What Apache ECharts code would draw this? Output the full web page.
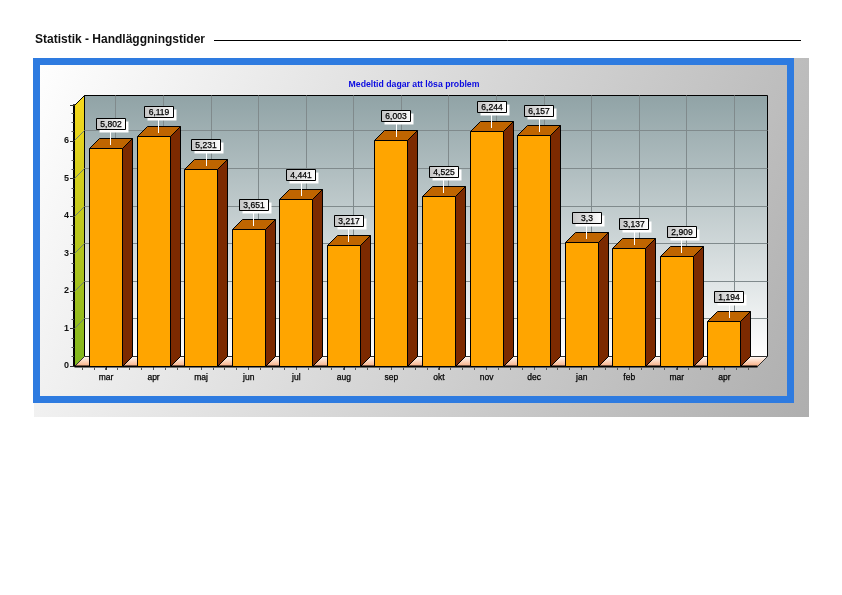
<!DOCTYPE html>
<html><head><meta charset="utf-8">
<style>html,body{margin:0;padding:0;background:#fff}#c{width:842px;height:595px}</style>
<script src="https://cdn.jsdelivr.net/npm/echarts@6/dist/echarts.min.js"></script>
</head><body><div id="c"></div>
<script>
const categories = ['mar','apr','maj','jun','jul','aug','sep','okt','nov','dec','jan','feb','mar','apr'];
const values = [5.802,6.119,5.231,3.651,4.441,3.217,6.003,4.525,6.244,6.157,3.3,3.137,2.909,1.194];
const yMax = 6.96;
const pageTitle = 'Statistik - Handläggningstider';
const chartTitle = 'Medeltid dagar att lösa problem';

const D = 10, BAR_W = 33, FONT = '"Liberation Sans", Arial, sans-serif';
const snap = v => Math.round(v - 0.5) + 0.5;
const poly = (points, fill, stroke, lw) => ({type:'polygon', shape:{points}, style:{fill, stroke:stroke||'none', lineWidth:lw||0}});
const line = (x1,y1,x2,y2,stroke,lw) => ({type:'line', shape:{x1,y1,x2,y2}, style:{stroke, lineWidth:lw||1}});
const lin = (x,y,x2,y2,stops) => ({type:'linear',x,y,x2,y2,colorStops:stops.map((c,i)=>({offset:i/(stops.length-1),color:c}))});

function renderWalls(params, api){
  const cs = params.coordSys;
  const L = snap(cs.x - 8.2), R = snap(cs.x + cs.width + 8.8), T = snap(cs.y), B = snap(cs.y + cs.height);
  const ch = [];
  ch.push(poly([[L+D,T-D],[R+D,T-D],[R+D,B-D],[L+D,B-D]], lin(0,0,0,1,['#90a3a6','#ffffff']), '#000', 1));
  ch.push(poly([[L,T],[L+D,T-D],[L+D,B-D],[L,B]], lin(0,0,0,1,['#f8d81c','#7fb61e']), '#000', 1));
  ch.push(poly([[L,B],[L+D,B-D],[R+D,B-D],[R,B]], lin(0,0,0,1,['#ffffff','#f8a878']), '#333', 1));
  for(let v=1;v<=6;v++){
    const y = snap(api.coord([0,v])[1]);
    ch.push(line(L,y,L+D,y-D,'#6f7f6a',1));
    ch.push(line(L+D,y-D,R+D,y-D,'#808a8c',1));
  }
  categories.forEach((c,i)=>{
    const x = snap(api.coord([i,0])[0]);
    ch.push(line(x+D,T-D,x+D,B-D,'#808a8c',1));
  });
  ch.push(line(L,B,R,B,'#000',2));
  const band = api.size([1,0])[0];
  for(let i=0;i<categories.length*4+1;i++){
    const x = snap(cs.x + i*band/4);
    ch.push(line(x,B+1,x,B+3.5,'#555',1));
  }
  return {type:'group', children:ch};
}

function renderBar(params, api){
  const i = api.value(0), v = api.value(1);
  const c = api.coord([i,v]), c0 = api.coord([i,0]);
  const x0 = snap(c[0]-BAR_W/2), x1 = x0+BAR_W, yt = snap(c[1]), yb = snap(c0[1]);
  const txt = String(v).replace('.',',');
  const bw = 29, bh = 11, mid = snap(c[0]+5);
  const bx = snap(c[0]+5-bw/2), by = snap(yt-24.5-bh/2);
  return {type:'group', children:[
    poly([[x1,yt],[x1+D,yt-D],[x1+D,yb-D],[x1,yb]], '#7c2a00', '#000', 1),
    poly([[x0,yt],[x0+D,yt-D],[x1+D,yt-D],[x1,yt]], '#bf6500', '#000', 1),
    {type:'rect', shape:{x:x0,y:yt,width:BAR_W,height:yb-yt}, style:{fill:'#ffa500',stroke:'#000',lineWidth:1}},
    line(mid,by+bh,mid,yt-3.5,'#ffffff',1),
    {type:'rect', shape:{x:bx+3,y:by+3,width:bw,height:bh}, style:{fill:'#ffffff'}},
    {type:'rect', shape:{x:bx,y:by,width:bw,height:bh}, style:{fill:lin(0,0,1,0,['#c4c4c4','#ffffff']),stroke:'#000',lineWidth:1}},
    {type:'text', style:{x:bx+bw/2,y:by+bh/2+0.5,text:txt,fill:'#000',font:'8.5px '+FONT,align:'center',verticalAlign:'middle',stroke:'#000',lineWidth:0.25}}
  ]};
}

const chart = echarts.init(document.getElementById('c'), null, {renderer:'canvas'});
chart.setOption({
  animation:false,
  backgroundColor:'#fff',
  title:[
    {text:pageTitle,left:35,top:34,textStyle:{fontFamily:FONT,fontSize:12,fontWeight:'bold',color:'#111'},padding:0},
    {text:chartTitle,left:414,top:80,textAlign:'center',textStyle:{fontFamily:FONT,fontSize:8.7,fontWeight:'bold',color:'#0a0ae0'},padding:0}
  ],
  graphic:[
    {type:'line',shape:{x1:214,y1:40.5,x2:801,y2:40.5},style:{stroke:'#000',lineWidth:1}},
    {type:'rect',shape:{x:34,y:58,width:775,height:359},style:{fill:lin(0,0,1,1,['#ffffff','#aeaeae'])}},
    {type:'rect',shape:{x:36.5,y:61.5,width:754,height:338},style:{fill:'none',stroke:'#2e7be0',lineWidth:7}}
  ],
  grid:{left:82.2,top:105,width:666,height:261,containLabel:false},
  xAxis:{type:'category',data:categories,
    axisLine:{show:false},
    axisTick:{show:true,alignWithLabel:true,length:4,lineStyle:{color:'#333'}},
    axisLabel:{fontFamily:FONT,fontSize:8.5,color:'#000',margin:7,textBorderColor:'#000',textBorderWidth:0.25}},
  yAxis:{type:'value',min:0,max:yMax,interval:1,offset:8.2,
    axisLine:{show:true,lineStyle:{color:'#000',width:2}},
    axisTick:{show:true,length:4,lineStyle:{color:'#333'}},
    minorTick:{show:true,splitNumber:4,length:2.5,lineStyle:{color:'#555'}},
    splitLine:{show:false},
    axisLabel:{showMaxLabel:false,fontFamily:FONT,fontSize:9,fontWeight:'bold',color:'#111',margin:5}},
  series:[
    {type:'custom',renderItem:renderWalls,data:[[0,0]],clip:false,silent:true,z:1},
    {type:'custom',renderItem:renderBar,encode:{x:0,y:1},data:values.map((v,i)=>[i,v]),clip:false,z:3}
  ]
});
</script></body></html>
